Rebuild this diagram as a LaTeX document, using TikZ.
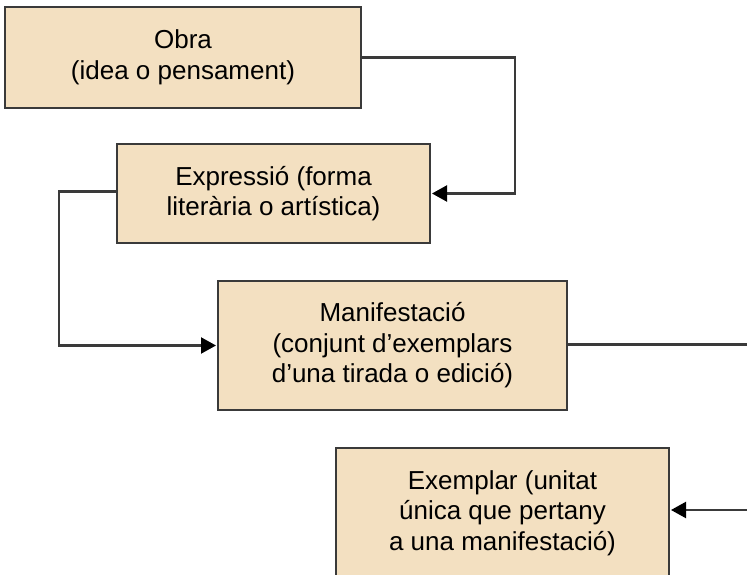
\documentclass[tikz,border=0pt]{standalone}
\usepackage{fontspec}
\setmainfont{Liberation Sans}
\usetikzlibrary{arrows.meta}
\definecolor{boxfill}{RGB}{243,224,193}
\definecolor{boxline}{RGB}{58,58,58}

\tikzset{
  entity/.style={draw=boxline, fill=boxfill, line width=2pt, inner sep=0pt,
    align=center, font=\fontsize{26}{30.5}\selectfont},
  link/.style={draw=boxline, line width=2.2pt},
  arr/.style={link, -{Triangle[length=15pt,width=16pt,color=black]}, shorten >=1pt}
}

\begin{document}
\begin{tikzpicture}[x=1pt, y=-1pt]
  \useasboundingbox (0,0) rectangle (747,575);

  \node[entity, minimum width=356pt, minimum height=101pt] (OBRA) at (183,57.5) {Obra\\(idea o pensament)};
  \node[entity, minimum width=313pt, minimum height=99pt] (EXP) at (273.5,193.5) {Expressió (forma\\literària o artística)};
  \node[entity, minimum width=349pt, minimum height=129pt] (MAN) at (392.5,345.5) {Manifestació\\(conjunt d’exemplars\\d’una tirada o edició)};
  \node[entity, minimum width=333pt, minimum height=130pt] (EXE) at (502.5,513) {Exemplar (unitat\\única que pertany\\a una manifestació)};
  \coordinate (MOUT) at (752,344.5);
  \coordinate (EIN) at (752,510);

  \draw[arr] (OBRA.east) -- ++(153,0) |- (EXP.east);
  \draw[arr] ([yshift=2pt]EXP.west) -- ++(-57,0) |- (MAN.west);
  \draw[link] (MAN.east |- MOUT) -- (MOUT);
  \draw[arr] (EIN) -- (EIN -| EXE.east);
\end{tikzpicture}
\end{document}
